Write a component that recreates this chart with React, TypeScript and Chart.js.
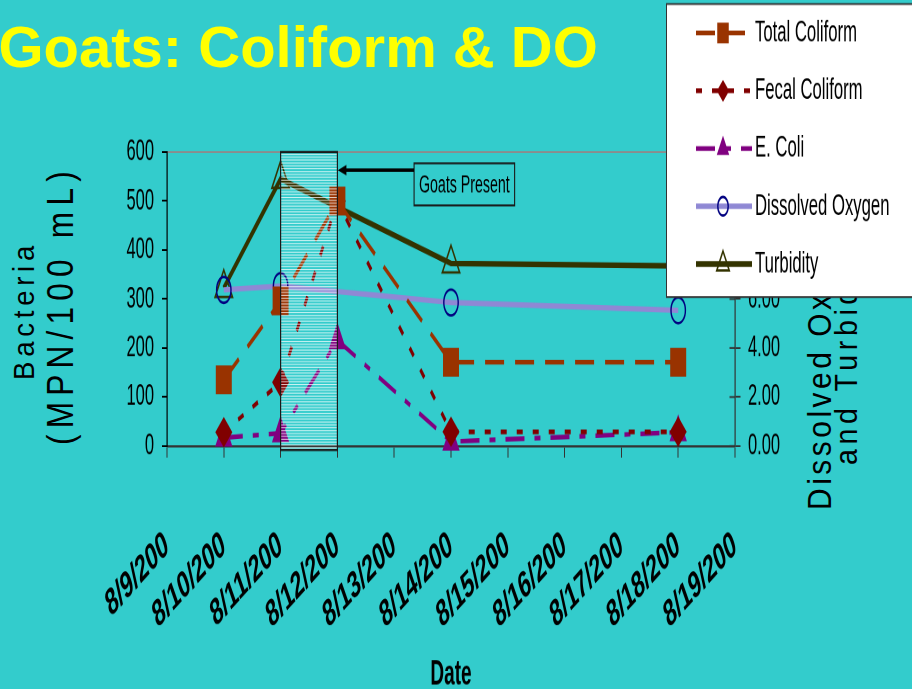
import React, { useEffect, useRef } from 'react';
import { Chart, registerables } from 'chart.js';
import { drawPoint } from 'chart.js/helpers';

Chart.register(...registerables);

// ---------------- data ----------------
const dates = ['8/9/200', '8/10/200', '8/11/200', '8/12/200', '8/13/200', '8/14/200', '8/15/200', '8/16/200', '8/17/200', '8/18/200', '8/19/200'];
const totalColiform = [null, 135, 296, 500, null, 171, null, null, null, 171, null];
const fecalColiform = [null, 28, 130, 500, null, 29, null, null, null, 29, null];
const eColi = [null, 17, 26, 216, null, 9, null, null, null, 28, null];
const dissolvedOxygen = [null, 6.37, 6.53, null, null, 5.86, null, null, null, 5.54, null];
const turbidity = [null, 6.45, 10.9, null, null, 7.45, null, null, null, 7.35, null];
const bacteriaRange = [0, 600, 100];
const doTurbRange = [0, 12, 2];
const goatsPresent = ['8/11/200', '8/12/200'];
const goatsLabel = 'Goats Present';

// ---------------- layout ----------------
const W = 912;
const H = 689;
const LH = 383; // logical canvas height (stretched vertically like the original picture)
const SY = H / LH;
const PLOT_LEFT = 167;
const PLOT_RIGHT = 735;
const PLOT_TOP = 152 / SY;
const PLOT_BOTTOM = 446 / SY;
const FONT = '"Liberation Sans", Arial, Helvetica, sans-serif';

const overlayPlugin = {
  id: 'overlay',
  afterDatasetsDraw(chart: any) {
    const { ctx, scales, chartArea } = chart;
    const x = scales.x;
    const y = scales.y;
    const i0 = dates.indexOf(goatsPresent[0]);
    const i1 = dates.indexOf(goatsPresent[1]);
    const xl = x.getPixelForValue(i0);
    const xr = x.getPixelForValue(i1);
    const top = y.getPixelForValue(bacteriaRange[1]);
    const bottom = chartArea.bottom + 2.2;
    ctx.save();
    // hatched rectangle
    ctx.fillStyle = 'rgba(255,255,255,0.78)';
    for (let yy = top + 1; yy < bottom - 0.5; yy += 1.6) {
      ctx.fillRect(xl, yy, xr - xl, 0.55);
    }
    ctx.strokeStyle = '#1a1a1a';
    ctx.lineWidth = 1.2;
    ctx.strokeRect(xl, top, xr - xl, bottom - top);

    // text box
    const step = x.getPixelForValue(1) - x.getPixelForValue(0);
    const bx0 = x.getPixelForValue(4) + 0.35 * step;
    const bx1 = x.getPixelForValue(6) + 0.12 * step;
    const by0 = y.getPixelForValue(577);
    const by1 = y.getPixelForValue(491);
    ctx.lineWidth = 1.1;
    ctx.strokeRect(bx0, by0, bx1 - bx0, by1 - by0);
    ctx.fillStyle = '#000';
    ctx.font = `14.2px ${FONT}`;
    ctx.textAlign = 'center';
    ctx.textBaseline = 'middle';
    ctx.fillText(goatsLabel, (bx0 + bx1) / 2, (by0 + by1) / 2 + 0.5);

    // arrow
    const ay = y.getPixelForValue(563);
    ctx.strokeStyle = '#000';
    ctx.lineWidth = 1.8;
    ctx.beginPath();
    ctx.moveTo(bx0, ay);
    ctx.lineTo(xr + 6, ay);
    ctx.stroke();
    ctx.beginPath();
    ctx.moveTo(xr + 0.5, ay);
    ctx.lineTo(xr + 9, ay - 2.9);
    ctx.lineTo(xr + 9, ay + 2.9);
    ctx.closePath();
    ctx.fill();
    ctx.restore();
  },
  afterDraw(chart: any) {
    const { ctx } = chart;
    const r = chart.scales.y1;
    ctx.save();
    // inner half of the crossing ticks on the right axis
    ctx.strokeStyle = '#333';
    ctx.lineWidth = 1;
    r.ticks.forEach((_t: any, i: number) => {
      const py = r.getPixelForTick(i);
      ctx.beginPath();
      ctx.moveTo(r.left - 5.5, py);
      ctx.lineTo(r.left, py);
      ctx.stroke();
    });

    // legend
    const lx = 666;
    const ly = 4 / SY;
    const lw = 262;
    const lh = (297 - 4) / SY;
    ctx.fillStyle = '#ffffff';
    ctx.fillRect(lx, ly, lw, lh);
    ctx.strokeStyle = '#333';
    ctx.lineWidth = 1;
    ctx.strokeRect(lx + 0.5, ly, lw, lh);
    const row0 = 33 / SY;
    const rowStep = (264 - 33) / 4 / SY;
    chart.data.datasets.forEach((ds: any, i: number) => {
      const yy = row0 + i * rowStep;
      ctx.save();
      ctx.setLineDash(ds.borderDash || []);
      ctx.lineWidth = ds.borderWidth;
      ctx.strokeStyle = ds.borderColor;
      ctx.beginPath();
      ctx.moveTo(696, yy);
      ctx.lineTo(752, yy);
      ctx.stroke();
      ctx.setLineDash([]);
      ctx.fillStyle = ds.pointBackgroundColor;
      ctx.strokeStyle = ds.pointBorderColor;
      ctx.lineWidth = ds.pointBorderWidth;
      drawPoint(ctx, { pointStyle: ds.pointStyle, rotation: 0, radius: ds.pointRadius * 0.72, borderWidth: ds.pointBorderWidth } as any, 723, yy);
      ctx.fillStyle = '#000';
      ctx.font = `16.7px ${FONT}`;
      ctx.textAlign = 'left';
      ctx.textBaseline = 'middle';
      ctx.fillText(ds.label, 755, yy);
      ctx.restore();
    });
    ctx.restore();
  },
};

function VText(props: { text: string; size: number; baseX: number; startY: number; stretch: number; spacing: number }) {
  const { text, size, baseX, startY, stretch, spacing } = props;
  return (
    <div
      style={{
        position: 'absolute',
        left: baseX - 0.847 * size,
        top: startY,
        transformOrigin: '0 0',
        transform: `rotate(-90deg) scaleX(${stretch})`,
        fontSize: size,
        lineHeight: `${size}px`,
        letterSpacing: spacing,
        whiteSpace: 'nowrap',
        fontFamily: FONT,
        color: '#000',
      }}
    >
      {text}
    </div>
  );
}

export default function App() {
  const ref = useRef<HTMLCanvasElement>(null);

  useEffect(() => {
    const canvas = ref.current!;
    const chart = new Chart(canvas, {
      type: 'line',
      data: {
        labels: dates,
        datasets: [
          {
            label: 'Total Coliform',
            data: totalColiform,
            yAxisID: 'y',
            borderColor: '#993300',
            backgroundColor: '#993300',
            borderWidth: 2.6,
            borderDash: [19, 11],
            pointStyle: 'rect',
            pointRadius: 11.3,
            pointBackgroundColor: '#993300',
            pointBorderColor: '#993300',
            pointBorderWidth: 0,
          },
          {
            label: 'Fecal Coliform',
            data: fecalColiform,
            yAxisID: 'y',
            borderColor: '#800000',
            backgroundColor: '#800000',
            borderWidth: 2.6,
            borderDash: [6, 10],
            pointStyle: 'rectRot',
            pointRadius: 8.5,
            pointBackgroundColor: '#800000',
            pointBorderColor: '#800000',
            pointBorderWidth: 0,
          },
          {
            label: 'E. Coli',
            data: eColi,
            yAxisID: 'y',
            borderColor: '#800080',
            backgroundColor: '#800080',
            borderWidth: 2.6,
            borderDash: [19, 10, 6, 10],
            pointStyle: 'triangle',
            pointRadius: 10,
            pointBackgroundColor: '#800080',
            pointBorderColor: '#800080',
            pointBorderWidth: 0,
          },
          {
            label: 'Dissolved Oxygen',
            data: dissolvedOxygen,
            yAxisID: 'y1',
            borderColor: '#8f88d4',
            backgroundColor: '#8f88d4',
            borderWidth: 3,
            pointStyle: 'circle',
            pointRadius: 7.2,
            pointBackgroundColor: 'rgba(0,0,0,0)',
            pointBorderColor: '#000080',
            pointBorderWidth: 1.4,
          },
          {
            label: 'Turbidity',
            data: turbidity,
            yAxisID: 'y1',
            borderColor: '#333300',
            backgroundColor: '#333300',
            borderWidth: 3.2,
            pointStyle: 'triangle',
            pointRadius: 10,
            pointBackgroundColor: 'rgba(0,0,0,0)',
            pointBorderColor: '#333300',
            pointBorderWidth: 1.4,
          },
        ] as any,
      },
      options: {
        responsive: false,
        animation: false,
        devicePixelRatio: 2,
        events: [],
        spanGaps: true,
        clip: false as any,
        layout: { padding: { top: PLOT_TOP, left: 0, right: 0, bottom: 0 } },
        elements: { line: { tension: 0, borderCapStyle: 'butt' } },
        plugins: { legend: { display: false }, tooltip: { enabled: false } },
        scales: {
          x: {
            type: 'category',
            offset: false,
            grid: { display: true, drawOnChartArea: false, drawTicks: true, tickLength: 6.5, tickColor: '#333', offset: false },
            border: { color: '#333', width: 1.2 },
            ticks: {
              autoSkip: false,
              minRotation: 32,
              maxRotation: 32,
              padding: 36,
              color: '#000',
              font: { family: FONT, size: 21, weight: 'bold' },
            },
            title: {
              display: true,
              text: 'Date',
              color: '#000',
              font: { family: FONT, size: 19, weight: 'bold', lineHeight: 1 },
              padding: { top: 0, bottom: -2 },
            },
            afterFit: (s: any) => {
              s.height = LH - PLOT_BOTTOM;
            },
          },
          y: {
            position: 'left',
            min: bacteriaRange[0],
            max: bacteriaRange[1],
            ticks: { stepSize: bacteriaRange[2], padding: 8, color: '#000', font: { family: FONT, size: 16.5 } },
            grid: {
              drawOnChartArea: true,
              color: (c: any) => (c.tick && c.tick.value === bacteriaRange[1] ? '#8c8c8c' : 'rgba(0,0,0,0)'),
              lineWidth: 1,
              tickLength: 5,
              tickColor: '#000',
            },
            border: { color: '#000', width: 1.2 },
            afterFit: (s: any) => {
              s.width = PLOT_LEFT;
            },
          },
          y1: {
            position: 'right',
            min: doTurbRange[0],
            max: doTurbRange[1],
            ticks: {
              stepSize: doTurbRange[2],
              padding: 7.5,
              color: '#000',
              font: { family: FONT, size: 16.5 },
              callback: (v: any) => Number(v).toFixed(2),
            },
            grid: { drawOnChartArea: false, tickLength: 5.5, tickColor: '#333' },
            border: { color: '#333', width: 1.2 },
            afterFit: (s: any) => {
              s.width = W - PLOT_RIGHT;
            },
          },
        },
      } as any,
      plugins: [overlayPlugin],
    });
    return () => chart.destroy();
  }, []);

  return (
    <div
      style={{
        position: 'fixed',
        left: 0,
        top: 0,
        width: W,
        height: H,
        background: '#33CCCC',
        overflow: 'hidden',
        fontFamily: FONT,
      }}
    >
      <VText text="Bacteria" size={29} baseX={35} startY={380} stretch={0.95} spacing={5} />
      <VText text="(MPN/100 mL)" size={36} baseX={73} startY={445} stretch={0.88} spacing={7} />
      <VText text="Dissolved Oxygen" size={34} baseX={831} startY={510} stretch={0.88} spacing={4} />
      <VText text="and Turbidity" size={31} baseX={857} startY={465} stretch={0.92} spacing={5} />
      <div
        style={{
          position: 'absolute',
          left: 0,
          top: 0,
          width: W,
          height: LH,
          transform: `scaleY(${SY})`,
          transformOrigin: '0 0',
        }}
      >
        <canvas ref={ref} width={W} height={LH} style={{ display: 'block', width: W, height: LH }} />
      </div>
      <div
        style={{
          position: 'absolute',
          left: -1.5,
          top: 17.9,
          fontSize: 58,
          lineHeight: '58px',
          fontWeight: 'bold',
          color: '#FFFF00',
          whiteSpace: 'nowrap',
          fontFamily: FONT,
        }}
      >
        Goats: Coliform &amp; DO
      </div>
    </div>
  );
}
